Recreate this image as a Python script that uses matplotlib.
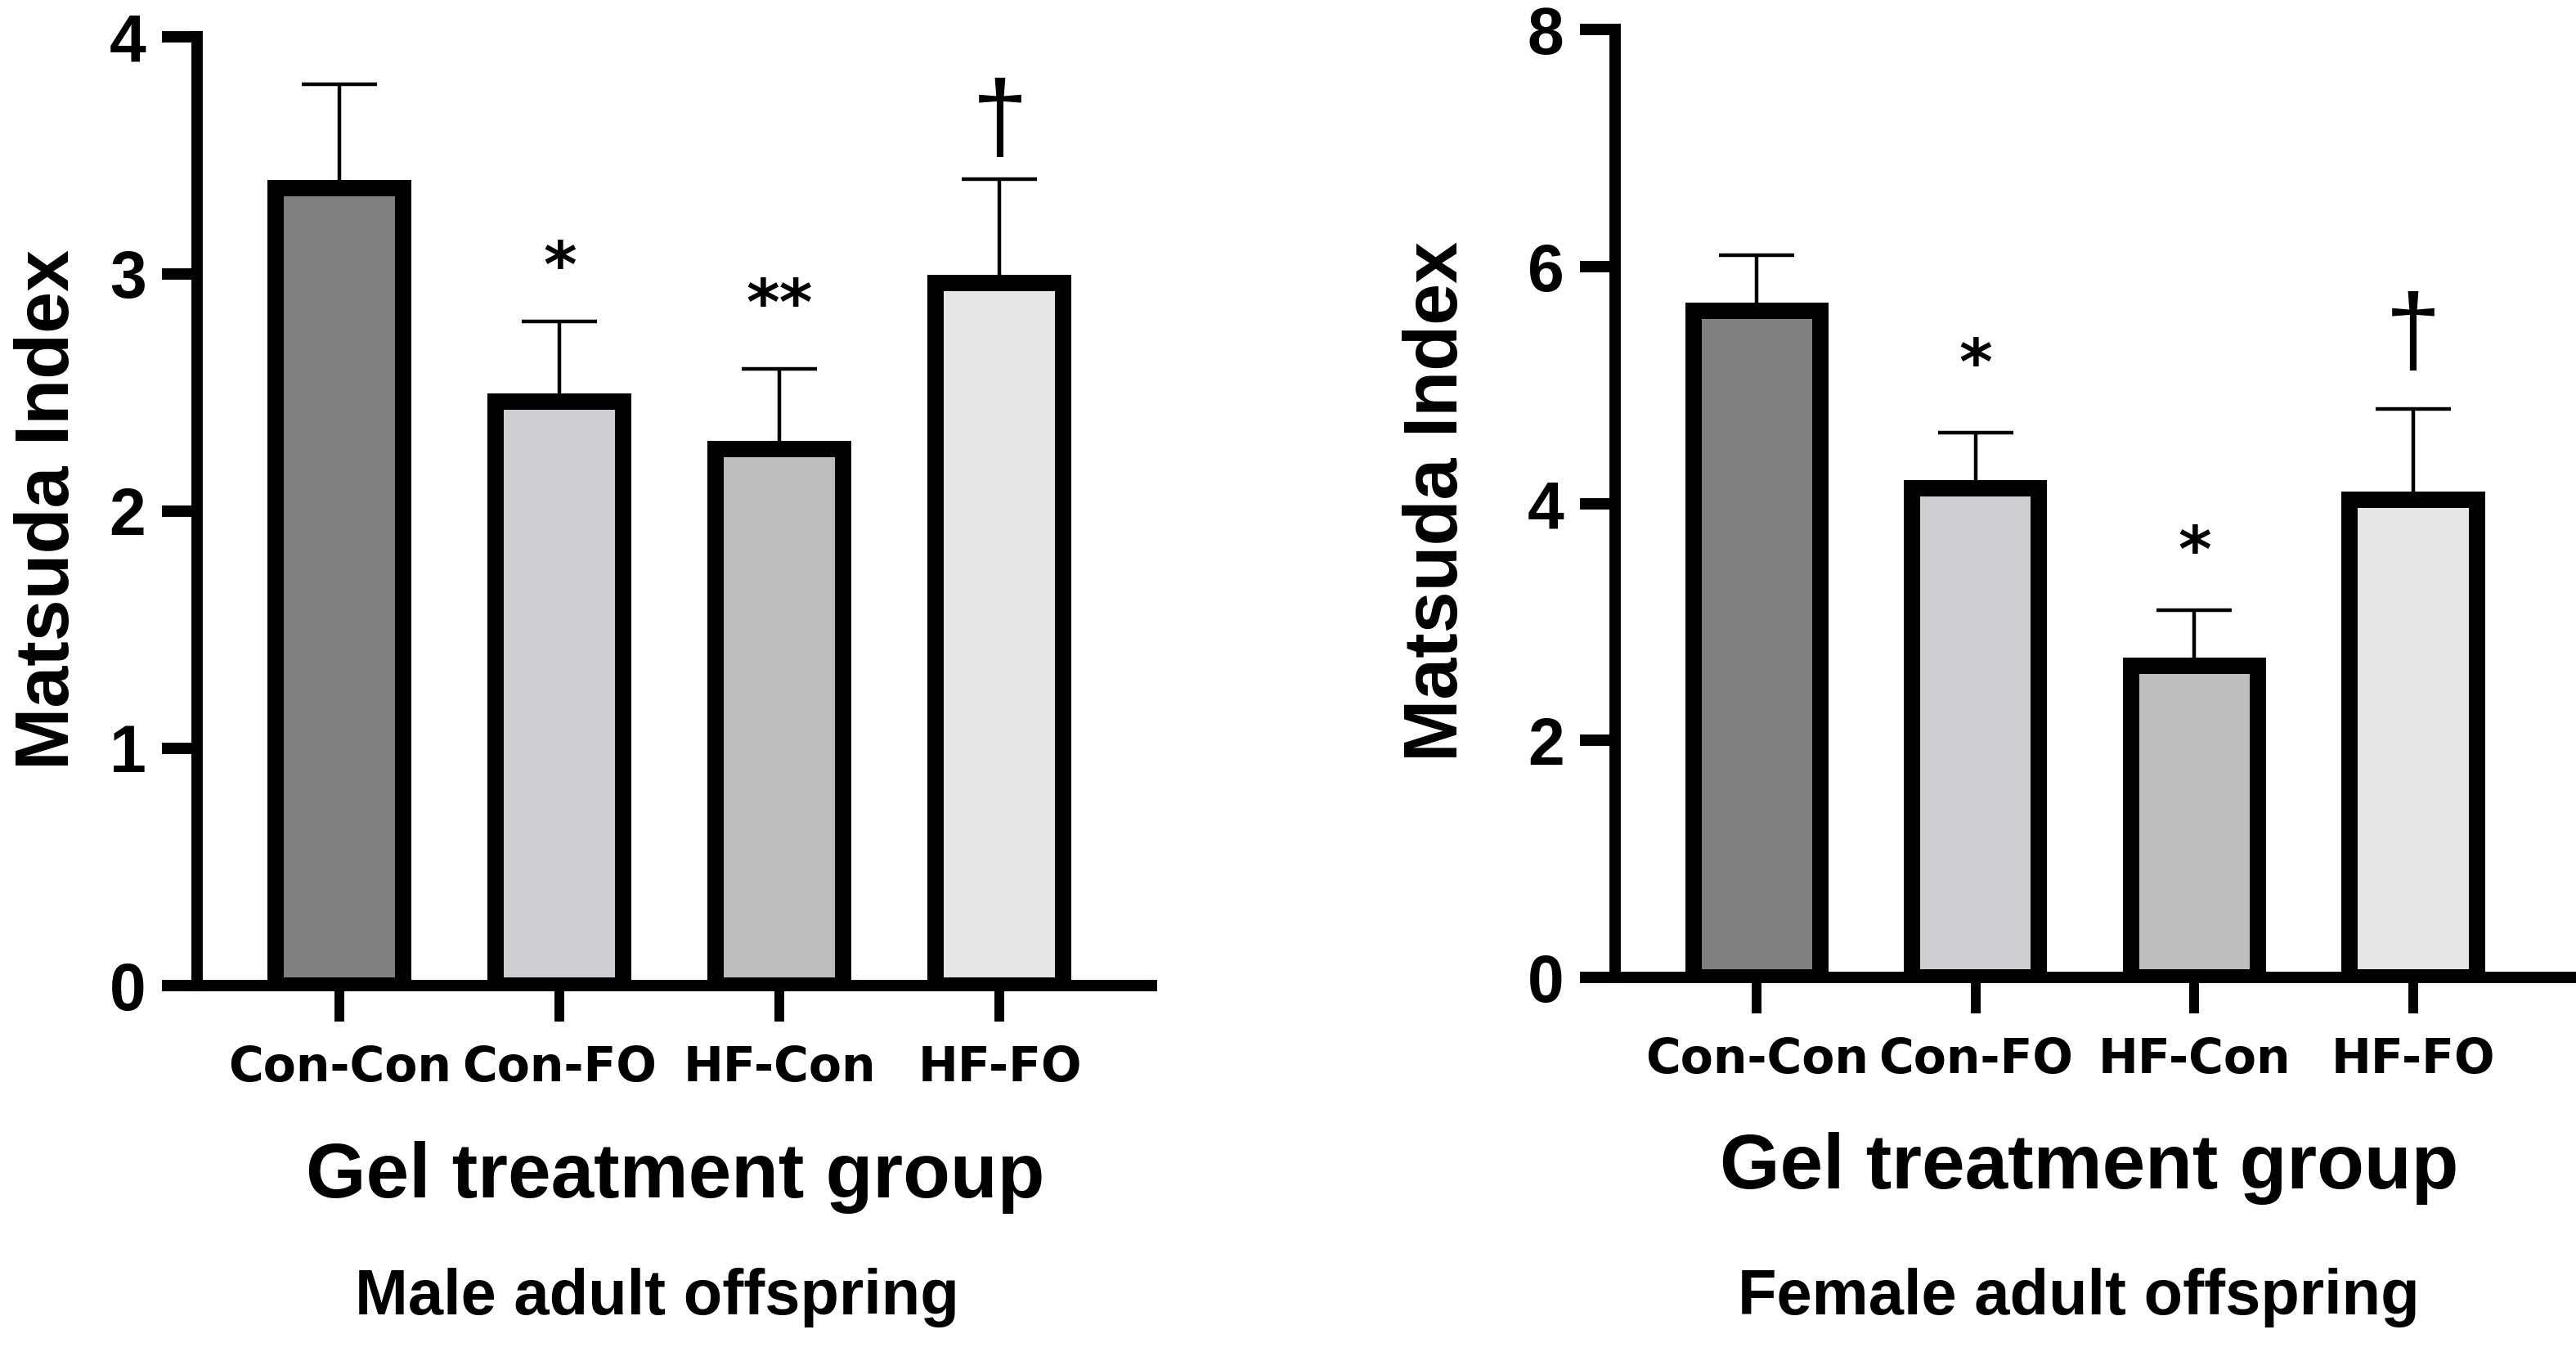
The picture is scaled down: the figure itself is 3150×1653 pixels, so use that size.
import matplotlib
matplotlib.use("Agg")
import matplotlib.pyplot as plt
import numpy as np

# groups and values
groups = ["Con-Con", "Con-FO", "HF-Con", "HF-FO"]
colors = ["#808080", "#cfcfd3", "#bdbdbd", "#e6e6e6"]

male_mean = [3.36, 2.46, 2.26, 2.96]
male_top = [3.8, 2.8, 2.6, 3.4]          # top of SEM bar
male_marks = ["", "*", "**", "\u2020"]
male_mark_y = [0, 3.02, 2.86, 3.63]

female_mean = [5.63, 4.13, 2.63, 4.03]
female_top = [6.1, 4.6, 3.1, 4.8]
female_marks = ["", "*", "*", "\u2020"]
female_mark_y = [0, 5.16, 3.58, 5.4]

male_yticks = [0, 1, 2, 3, 4]
female_yticks = [0, 2, 4, 6, 8]

BOLD = "Liberation Sans"

fig = plt.figure(figsize=(15.75, 8.265), dpi=200)
ax1 = fig.add_axes([0.0765, 0.271, 0.3705, 0.702])
ax2 = fig.add_axes([0.627, 0.277, 0.371, 0.701])


def panel(ax, mean, top, marks, mark_y, yticks, xlim):
    x = np.arange(len(groups))
    up = np.array(top) - np.array(mean)
    ax.errorbar(x, mean, yerr=[np.zeros(len(x)), up], fmt="none",
                ecolor="black", elinewidth=1.6, capsize=16.5, capthick=1.6,
                zorder=2)
    ax.bar(x, mean, width=0.58, color=colors, edgecolor="black",
           linewidth=7.2, zorder=3)
    for xi, m, my in zip(x, marks, mark_y):
        if not m:
            continue
        if m == "\u2020":
            ax.text(xi, my, m, ha="center", va="center", fontsize=44,
                    family=BOLD)
        else:
            ax.text(xi, my, m, ha="center", va="center", fontsize=28,
                    family="DejaVu Sans", fontweight="bold")
    ax.set_xlim(*xlim)
    ax.set_ylim(yticks[0], yticks[-1])
    ax.set_yticks(yticks)
    ax.set_xticks(x)
    ax.set_xticklabels(groups, family="DejaVu Sans", fontweight="bold",
                       fontsize=21)
    for lab in ax.get_yticklabels():
        lab.set_family(BOLD)
        lab.set_fontweight("bold")
        lab.set_fontsize(29)
    ax.spines["top"].set_visible(False)
    ax.spines["right"].set_visible(False)
    for s in ("left", "bottom"):
        ax.spines[s].set_linewidth(5)
        ax.spines[s].set_capstyle("projecting")
    ax.tick_params(axis="y", direction="out", length=15.5, width=5, pad=7)
    ax.tick_params(axis="x", direction="out", length=16, width=4.3, pad=10)


panel(ax1, male_mean, male_top, male_marks, male_mark_y, male_yticks,
      (-0.648, 3.69))
panel(ax2, female_mean, female_top, female_marks, female_mark_y,
      female_yticks, (-0.647, 3.72))

# axis titles and panel captions
fig.text(0.019, 0.623, "Matsuda Index", rotation=90, ha="center",
         va="center", fontsize=33, fontweight="bold", family=BOLD)
fig.text(0.558, 0.629, "Matsuda Index", rotation=90, ha="center",
         va="center", fontsize=33, fontweight="bold", family=BOLD)
fig.text(0.262, 0.129, "Gel treatment group", ha="center", va="center",
         fontsize=34, fontweight="bold", family=BOLD)
fig.text(0.811, 0.136, "Gel treatment group", ha="center", va="center",
         fontsize=34, fontweight="bold", family=BOLD)
fig.text(0.255, 0.040, "Male adult offspring", ha="center", va="center",
         fontsize=28, fontweight="bold", family=BOLD)
fig.text(0.807, 0.040, "Female adult offspring", ha="center", va="center",
         fontsize=28, fontweight="bold", family=BOLD)

fig.savefig("out.png", dpi=200, facecolor="white")
